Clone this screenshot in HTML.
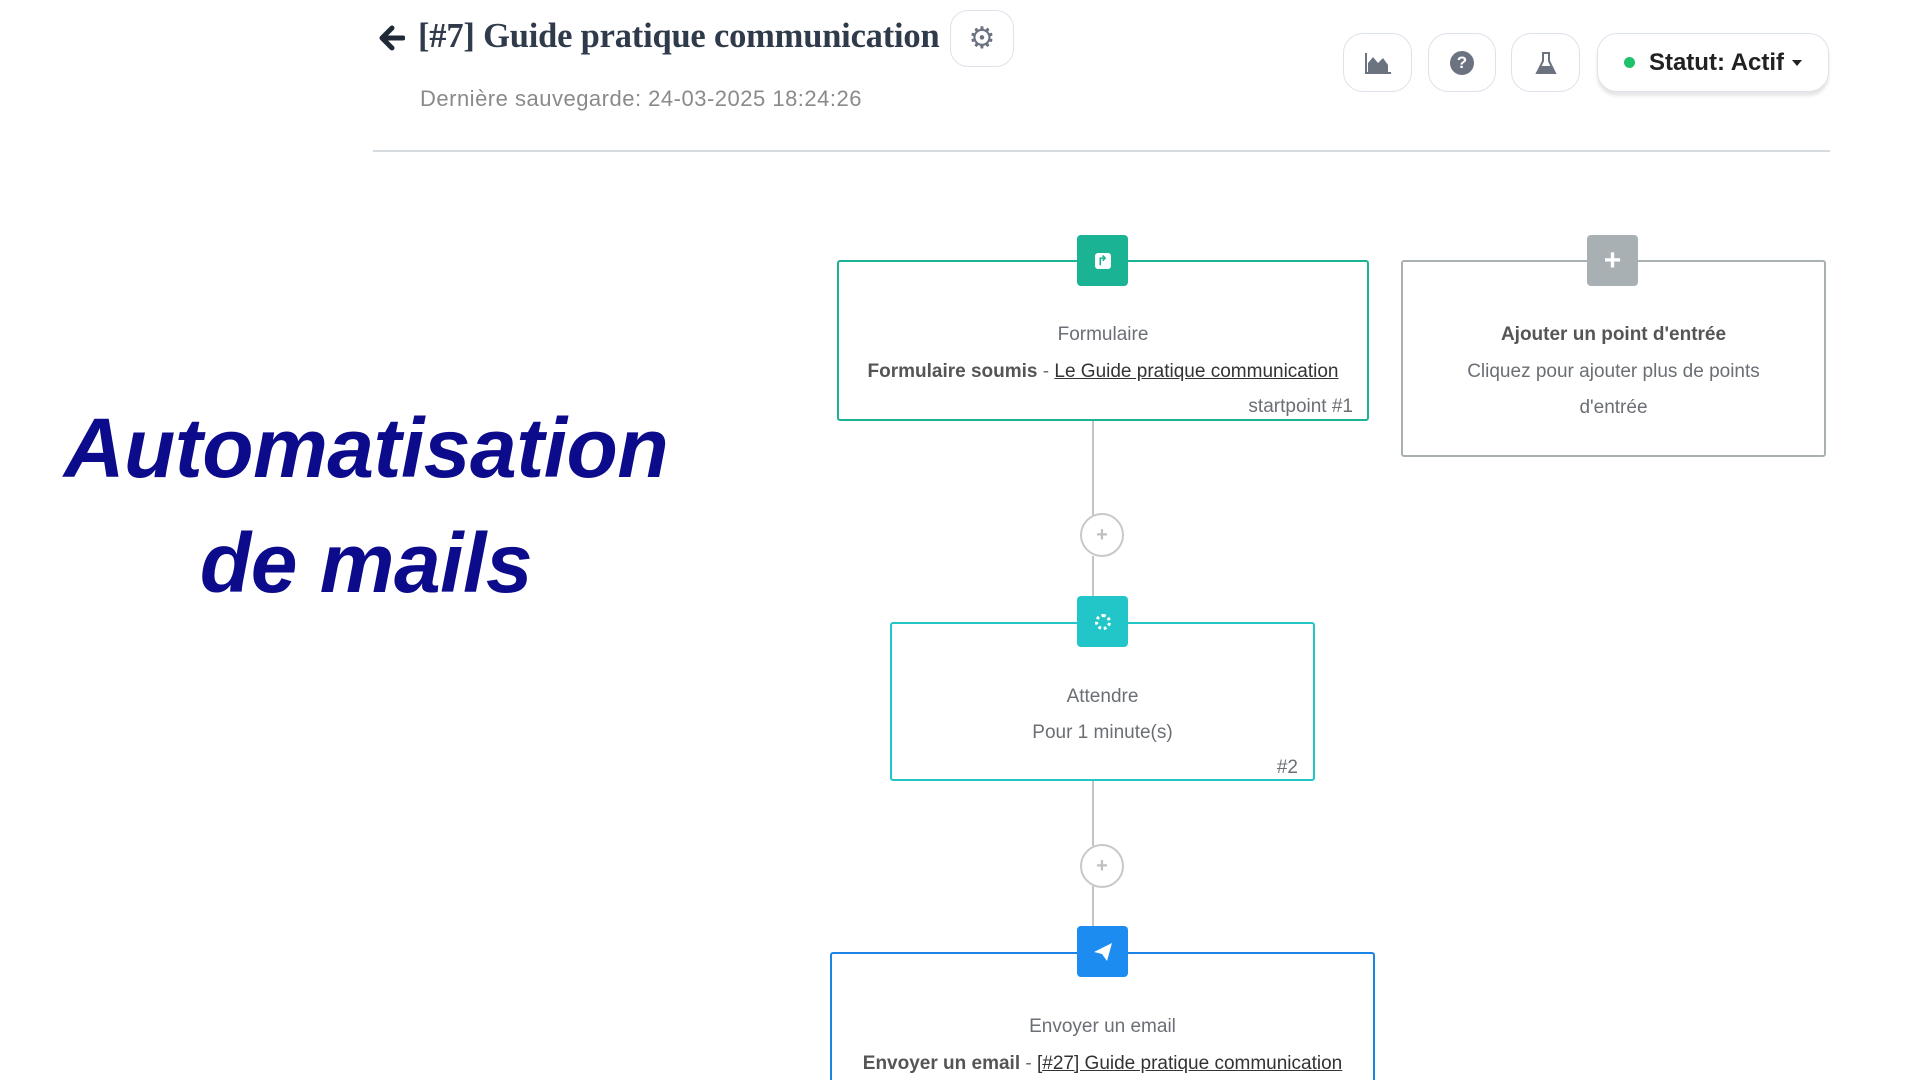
<!DOCTYPE html>
<html style="width:1920px;height:1080px;overflow:hidden"><head><meta charset="utf-8"><style>
*{margin:0;padding:0;box-sizing:border-box}
body{width:1920px;height:1080px;background:#fff;position:relative;overflow:hidden;font-family:"Liberation Sans",sans-serif}
.a{position:absolute}
.t{position:absolute;left:0;right:0;text-align:center;font-size:19px;color:#6b6f75;line-height:24px}
.node{position:absolute;background:#fff;border:2px solid;border-radius:3px}
.icon{position:absolute;width:51px;height:51px;border-radius:4px;display:flex;align-items:center;justify-content:center;color:#fff}
.btn{position:absolute;top:33px;height:59px;border:1px solid #dde3ea;border-radius:20px;background:#fff;display:flex;align-items:center;justify-content:center}
.line{position:absolute;width:2px;background:#c4c4c4}
.circ{position:absolute;width:44px;height:44px;border:2px solid #c8c8c8;border-radius:50%;background:#fff;color:#c0c0c0;font-size:20px;font-weight:bold;display:flex;align-items:center;justify-content:center}
u{text-decoration:underline;color:#333}
</style></head><body>

<svg class="a" style="left:377px;top:24px" width="28" height="28" viewBox="0 0 28 28"><path d="M26 14H6M15 4L5 14L15 24" stroke="#1f2937" stroke-width="5" fill="none" stroke-linecap="round" stroke-linejoin="round"/></svg>
<div class="a" style="left:418px;top:17px;font-family:'Liberation Serif',serif;font-weight:bold;font-size:34.5px;color:#2f3a4a;letter-spacing:-0.2px;white-space:nowrap">[#7] Guide pratique communication</div>
<div class="btn" style="left:950px;top:10px;width:64px;height:57px;border-radius:18px;font-size:30px;color:#6b7280">&#9881;</div>
<div class="a" style="left:420px;top:86px;font-size:22px;letter-spacing:0.5px;color:#8a8a8a;white-space:nowrap">Dernière sauvegarde: 24-03-2025 18:24:26</div>
<div class="a" style="left:373px;top:150px;width:1457px;height:2px;background:#d6dbe0"></div>

<div class="btn" style="left:1343px;width:69px"><svg width="28" height="24" viewBox="0 0 28 24"><path d="M2 2V22H27" stroke="#6b7280" stroke-width="2" fill="none"/><path d="M4 21L4 12L9 6L14 12L19 7L24 14V21Z" fill="#6b7280"/></svg></div>
<div class="btn" style="left:1428px;width:68px"><div style="width:24px;height:24px;border-radius:50%;background:#6b7280;color:#fff;font-weight:bold;font-size:17px;text-align:center;line-height:24px">?</div></div>
<div class="btn" style="left:1511px;width:69px"><svg width="22" height="24" viewBox="0 0 22 24"><path d="M7 2H15M8 2V10L2 22H20L14 10V2" stroke="#6b7280" stroke-width="2" fill="none"/><path d="M5 15H17L20 22H2Z" fill="#6b7280"/></svg></div>
<div class="btn" style="left:1597px;width:232px;box-shadow:0 4px 3px #e6e6e6"><span style="width:11px;height:11px;border-radius:50%;background:#1ec26a;margin-right:14px"></span><span style="font-size:24px;font-weight:bold;color:#222">Statut: Actif</span><span style="margin-left:8px;border-left:5px solid transparent;border-right:5px solid transparent;border-top:6px solid #222"></span></div>

<div class="a" style="left:41px;top:398px;width:650px;text-align:center;font-size:84px;font-weight:bold;font-style:italic;color:#0b0b8c;line-height:100px;letter-spacing:-0.5px">Automatisation</div>
<div class="a" style="left:41px;top:513px;width:650px;text-align:center;font-size:84px;font-weight:bold;font-style:italic;color:#0b0b8c;line-height:100px;letter-spacing:-0.5px">de mails</div>

<div class="line" style="left:1092px;top:421px;height:94px"></div>
<div class="line" style="left:1092px;top:556px;height:42px"></div>
<div class="circ" style="left:1080px;top:513px">+</div>
<div class="line" style="left:1092px;top:781px;height:65px"></div>
<div class="line" style="left:1092px;top:886px;height:42px"></div>
<div class="circ" style="left:1080px;top:844px">+</div>

<div class="node" style="left:837px;top:260px;width:532px;height:161px;border-color:#1ab394">
<div class="t" style="top:61px">Formulaire</div>
<div class="t" style="top:98px"><b style="color:#555">Formulaire soumis</b> - <u>Le Guide pratique communication</u></div>
<div class="a" style="right:14px;top:134px;font-size:19px;color:#6b6f75">startpoint #1</div>
</div>
<div class="icon" style="left:1077px;top:235px;background:#1ab394"><div style="width:16px;height:16px;background:#fff;border-radius:3px;color:#1ab394;font-size:13px;line-height:16px;text-align:center;font-weight:bold">&#x21B1;</div></div>

<div class="node" style="left:1401px;top:260px;width:425px;height:197px;border-color:#a9b0b3">
<div class="t" style="top:61px;font-weight:bold;color:#555">Ajouter un point d'entrée</div>
<div class="t" style="top:98px">Cliquez pour ajouter plus de points</div>
<div class="t" style="top:134px">d'entrée</div>
</div>
<div class="icon" style="left:1587px;top:235px;background:#a9b0b3;font-size:30px;font-weight:bold">+</div>

<div class="node" style="left:890px;top:622px;width:425px;height:159px;border-color:#23c6c8">
<div class="t" style="top:61px">Attendre</div>
<div class="t" style="top:97px">Pour 1 minute(s)</div>
<div class="a" style="right:15px;top:133px;font-size:19px;color:#6b6f75">#2</div>
</div>
<div class="icon" style="left:1077px;top:596px;background:#23c6c8"><div style="width:16px;height:16px;border:3px dotted #fff;border-radius:50%"></div></div>

<div class="node" style="left:830px;top:952px;width:545px;height:128px;border-color:#1c84e6;border-bottom:none;border-radius:3px 3px 0 0">
<div class="t" style="top:61px">Envoyer un email</div>
<div class="t" style="top:98px"><b style="color:#555">Envoyer un email</b> - <u>[#27] Guide pratique communication</u></div>
</div>
<div class="icon" style="left:1077px;top:926px;background:#1c8cf0"><svg width="22" height="22" viewBox="0 0 22 22"><path d="M2 11L20 2L15 20L10 13Z" fill="#fff"/></svg></div>

</body></html>
